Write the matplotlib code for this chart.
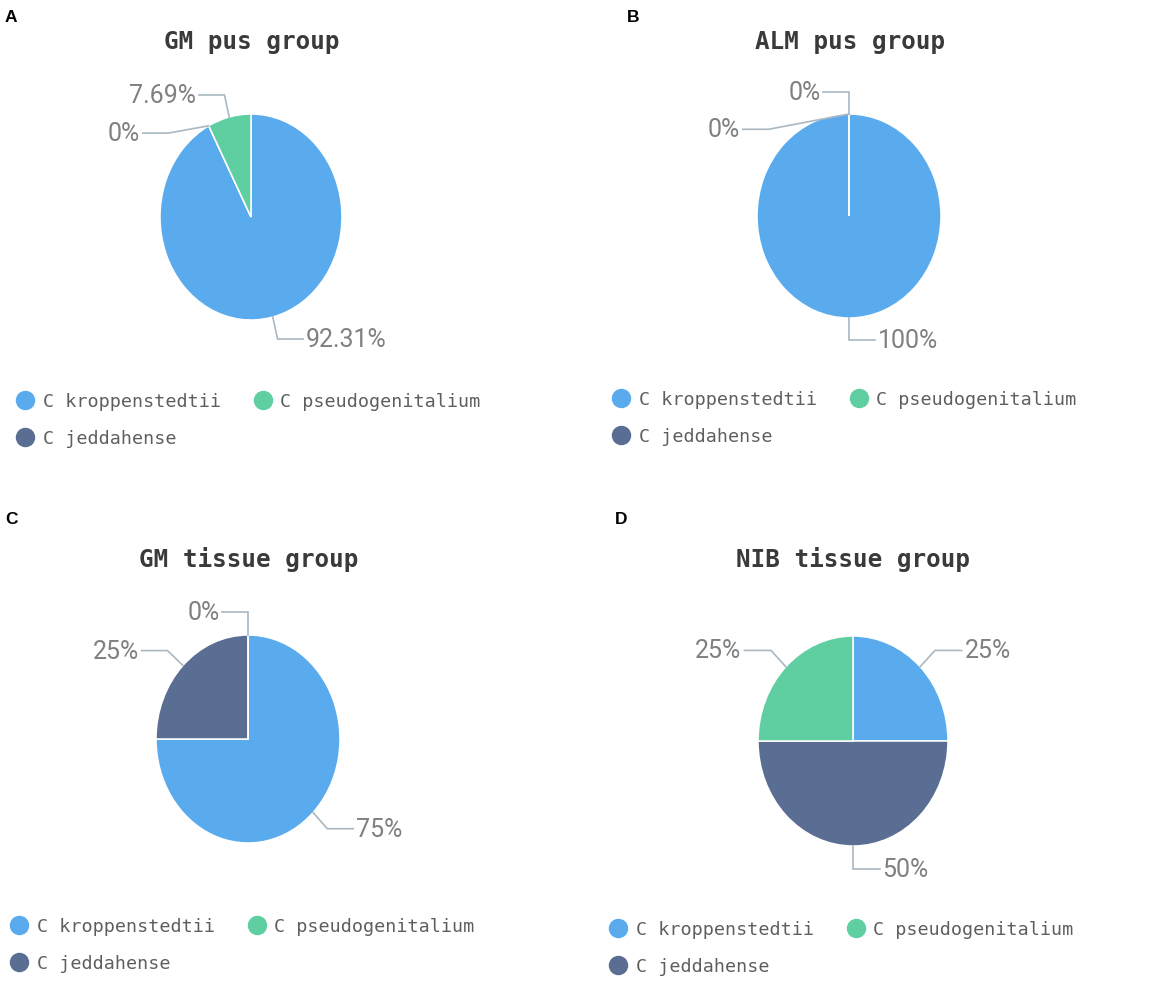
import numpy as np
import matplotlib
matplotlib.use('Agg')
import matplotlib.pyplot as plt
from matplotlib.lines import Line2D

# Datos de las cuatro graficas (orden de los sectores en el pastel)
especies = ['C kroppenstedtii', 'C jeddahense', 'C pseudogenitalium']
colores = ['#5AABEE', '#5A6D93', '#5FCFA2']

titulos = ['GM pus group', 'ALM pus group', 'GM tissue group', 'NIB tissue group']
letras = ['A', 'B', 'C', 'D']

gm_pus = [92.31, 0, 7.69]
alm_pus = [100, 0, 0]
gm_tissue = [75, 25, 0]
nib_tissue = [25, 50, 25]
valores = [gm_pus, alm_pus, gm_tissue, nib_tissue]

# orden de la leyenda: kroppenstedtii, pseudogenitalium / jeddahense
orden_leyenda = [0, 1, 2]

W, H = 1170, 987
fig = plt.figure(figsize=(W / 100, H / 100), dpi=100)

# posicion de cada panel en pixeles: centro del pastel, radios, titulo, leyenda, letra
centros = [(251, 218), (849, 217), (248, 740), (853, 742)]
radios = [(91, 103), (92, 102), (92, 104), (95, 105)]
pos_titulo = [(252, 42), (850, 42), (249, 560), (853, 560)]
pos_leyenda = [(25, 400), (621, 398), (19, 925), (618, 928)]
pos_letra = [(5, 17), (627, 17), (5, 520), (615, 520)]

R = 1.22      # radio del primer tramo de la linea guia
L2 = 0.28     # tramo horizontal
GAP = 0.37    # separacion minima entre etiquetas


def fx(px):
    return px / W


def fy(py):
    return 1 - py / H


def angulos_medios(vals):
    # angulo medio de cada sector (empieza arriba, sentido horario)
    fr = np.asarray(vals, float) / np.sum(vals)
    antes = np.concatenate([[0], np.cumsum(fr)[:-1]])
    return 90 - 360 * (antes + fr / 2)


def colocar_etiquetas(medios):
    items = []
    for m in medios:
        c, s = np.cos(np.radians(m)), np.sin(np.radians(m))
        izq = c < -1e-9 or (abs(c) < 1e-9 and s > 0)
        items.append({'izq': izq, 'y': R * s})
    for lado in (True, False):
        grupo = sorted([it for it in items if it['izq'] == lado], key=lambda it: -it['y'])
        prev = None
        for it in grupo:
            if prev is not None and it['y'] > prev - GAP:
                it['y'] = prev - GAP
            prev = it['y']
    for it in items:
        sgn = -1 if it['izq'] else 1
        it['x'] = sgn * np.sqrt(max(R**2 - it['y']**2, 0))
    return items


for k in range(4):
    cx, cy = centros[k]
    rx, ry = radios[k]
    ax = fig.add_axes([fx(cx - 2.2 * rx), fy(cy + 1.6 * ry), 4.4 * rx / W, 3.2 * ry / H])
    wedges, _ = ax.pie(valores[k], colors=colores, startangle=90, counterclock=False,
                       radius=1, wedgeprops=dict(edgecolor='white', linewidth=1.1))
    ax.set_aspect('auto')
    ax.set_xlim(-2.2, 2.2)
    ax.set_ylim(-1.6, 1.6)
    ax.axis('off')

    medios = angulos_medios(valores[k])
    etq = colocar_etiquetas(medios)
    for m, it, v in zip(medios, etq, valores[k]):
        x0, y0 = np.cos(np.radians(m)), np.sin(np.radians(m))
        sgn = -1 if it['izq'] else 1
        x2 = it['x'] + sgn * L2
        ax.plot([x0, it['x'], x2], [y0, it['y'], it['y']], color='#A9B8C2', lw=1.2,
                solid_joinstyle='miter', clip_on=False)
        ax.text(x2 + sgn * 0.03, it['y'], f'{v:g}%', ha='right' if it['izq'] else 'left',
                va='center', fontsize=18, color='#808080', family='Roboto',
                clip_on=False)

    # titulo y letra del panel
    tx, ty = pos_titulo[k]
    fig.text(fx(tx), fy(ty), titulos[k], ha='center', va='center', fontsize=17.5,
             fontweight='bold', family='DejaVu Sans Mono', color='#3A3A3A')
    lx, ly = pos_letra[k]
    fig.text(fx(lx), fy(ly), letras[k], ha='left', va='center', fontsize=12.5,
             fontweight='bold', family='Liberation Sans', color='black')

    # leyenda
    manejadores = [Line2D([], [], ls='none', marker='o', markersize=13,
                          markerfacecolor=colores[i], markeredgecolor=colores[i])
                   for i in orden_leyenda]
    mx, my = pos_leyenda[k]
    fig.legend(manejadores, [especies[i] for i in orden_leyenda], ncol=2,
               loc='upper left', bbox_to_anchor=(fx(mx - 9), fy(my - 7)),
               frameon=False, borderpad=0, handlelength=1.0, handletextpad=0.45,
               columnspacing=1.8, labelspacing=1.05, borderaxespad=0,
               prop={'family': 'DejaVu Sans Mono', 'size': 13.2}, labelcolor='#5E5E5E')

fig.savefig('out.png', dpi=100)
